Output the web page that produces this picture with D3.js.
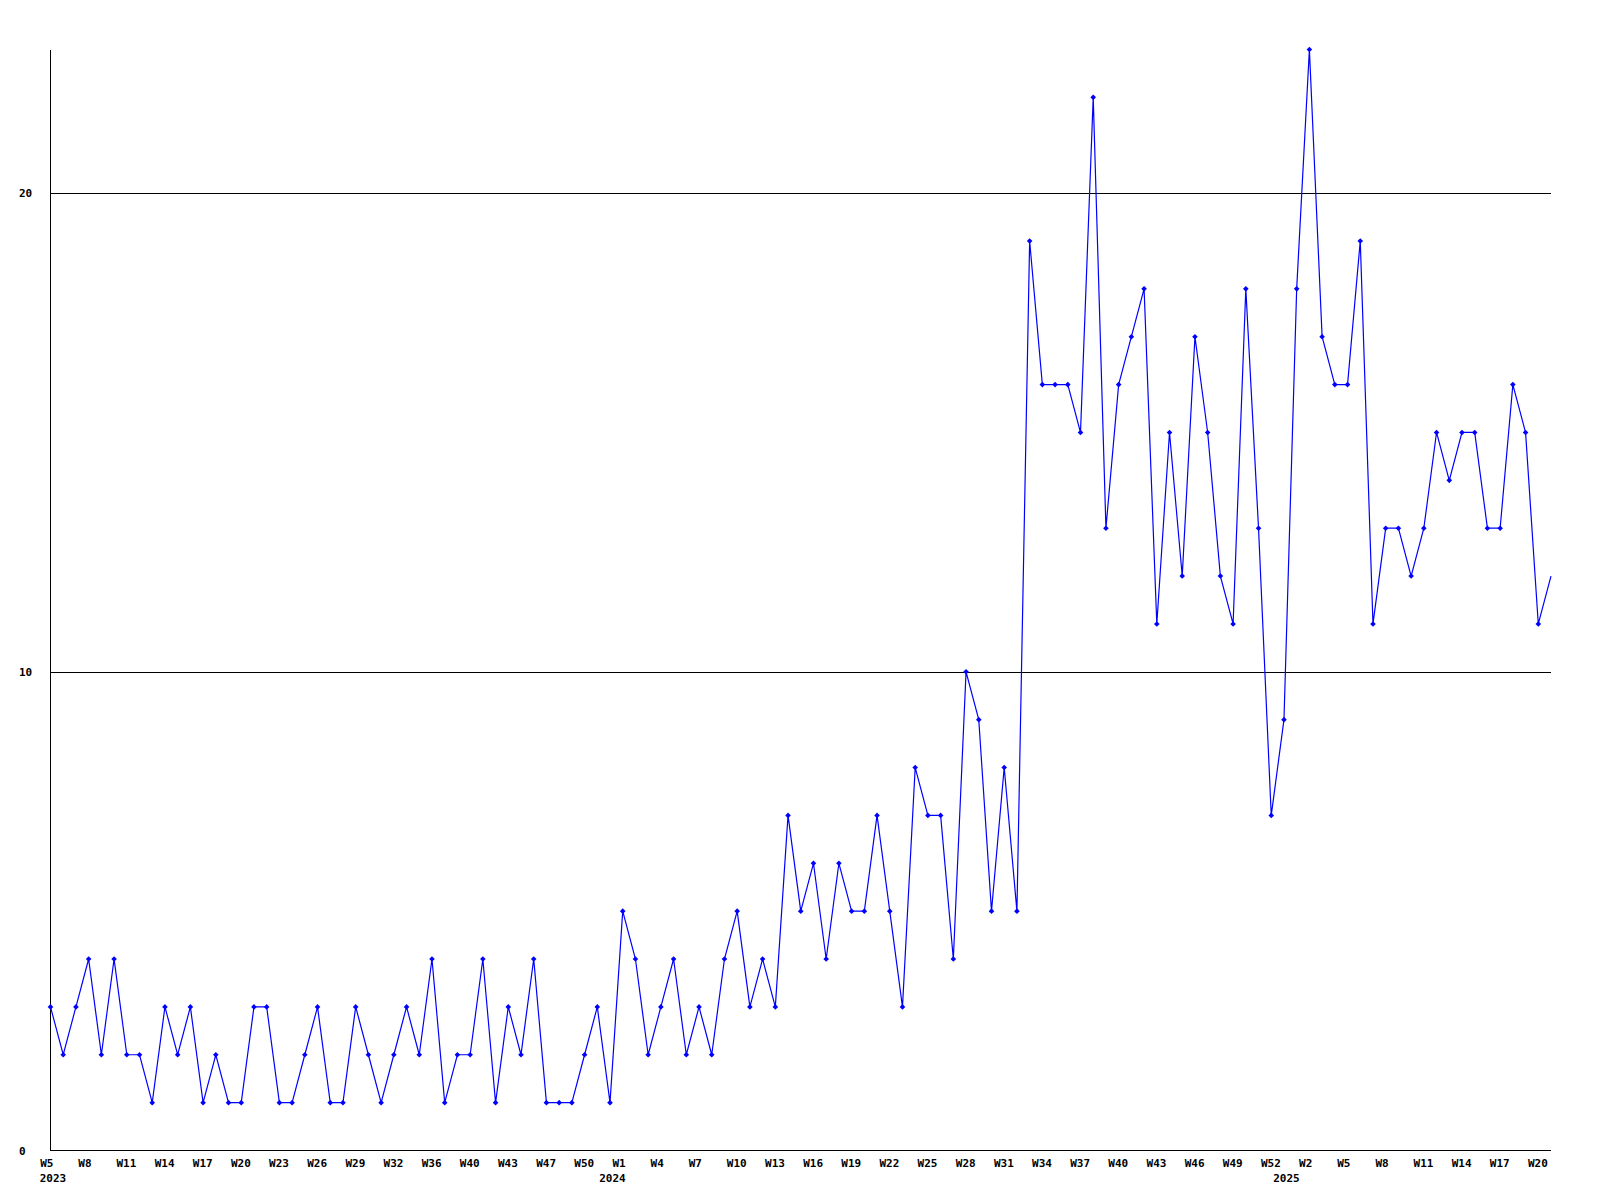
<!DOCTYPE html>
<html>
<head>
<meta charset="utf-8">
<script src="https://cdn.jsdelivr.net/npm/d3@7"></script>
<style>
  html, body { margin: 0; padding: 0; background: #ffffff; }
  svg { display: block; }
  text { font-family: "DejaVu Sans Mono", "Liberation Mono", monospace; font-weight: bold; font-size: 11px; fill: #000; }
</style>
</head>
<body>
<svg id="chart" width="1600" height="1200"></svg>
<script>
// ---- data ----
const values = [
  3,2,3,4,2,4,2,2,1,3, 2,3,1,2,1,1,3,3,1,1,
  2,3,1,1,3,2,1,2,3,2, 4,1,2,2,4,1,3,2,4,1,
  1,1,2,3,1,5,4,2,3,4, 2,3,2,4,5,3,4,3,7,5,
  6,4,6,5,5,7,5,3,8,7, 7,4,10,9,5,8,5,19,16,16,
  16,15,22,13,16,17,18,11,15,12, 17,15,12,11,18,13,7,9,18,23,
  17,16,16,19,11,13,13,12,13,15, 14,15,15,13,13,16,15,11,12
];
const tickLabels = [
  "W5","W8","W11","W14","W17","W20","W23","W26","W29","W32",
  "W36","W40","W43","W47","W50","W1","W4","W7","W10","W13",
  "W16","W19","W22","W25","W28","W31","W34","W37","W40","W43",
  "W46","W49","W52","W2","W5","W8","W11","W14","W17","W20"
];
const tickIndex = tickLabels.map((d, i) => i * 3);
const yearLabels = ["2023", "2024", "2025"];
const yearIndex = [0, 44, 97];
const yTicks = [0, 10, 20];

(function () {
  const svg = d3.select("#chart");
  const plotL = 50.5, plotR = 1551, plotT = 49.5, plotB = 1150.5;

  const x = d3.scaleLinear().domain([0, values.length - 1]).range([plotL, plotR]);
  const y = d3.scaleLinear().domain([0, 23]).range([plotB, plotT]);

  // gridlines
  svg.append("g")
    .selectAll("line")
    .data(yTicks.filter(d => d > 0))
    .join("line")
    .attr("x1", plotL).attr("x2", plotR)
    .attr("y1", d => Math.round(y(d)) + 0.5).attr("y2", d => Math.round(y(d)) + 0.5)
    .attr("stroke", "#000").attr("stroke-width", 1)
    .attr("shape-rendering", "crispEdges");

  // y axis
  const yAxis = svg.append("g")
    .attr("transform", `translate(${plotL},0)`)
    .call(d3.axisLeft(y).tickValues(yTicks).tickSize(0).tickPadding(0).tickFormat(d3.format("d")));
  yAxis.select(".domain").remove();
  yAxis.selectAll("text")
    .attr("x", 19 - plotL).attr("dy", "0.33em")
    .attr("text-anchor", "start");
  svg.append("line")
    .attr("x1", plotL).attr("x2", plotL).attr("y1", plotT).attr("y2", plotB)
    .attr("stroke", "#000").attr("shape-rendering", "crispEdges");

  // x axis
  const xAxis = svg.append("g")
    .attr("transform", `translate(0,${plotB})`)
    .call(d3.axisBottom(x).tickValues(tickIndex).tickSize(0).tickPadding(0)
      .tickFormat((d, i) => tickLabels[i]));
  xAxis.select(".domain").remove();
  xAxis.selectAll("text")
    .attr("y", 16.5).attr("dy", 0).attr("dx", -10.8)
    .attr("text-anchor", "start");
  svg.append("line")
    .attr("x1", plotL).attr("x2", plotR).attr("y1", plotB).attr("y2", plotB)
    .attr("stroke", "#000").attr("shape-rendering", "crispEdges");

  // year labels
  svg.append("g")
    .selectAll("text")
    .data(yearLabels)
    .join("text")
    .attr("x", (d, i) => x(yearIndex[i]) - 10.8)
    .attr("y", plotB + 31)
    .attr("text-anchor", "start")
    .text(d => d);

  // data line
  const line = d3.line().x((d, i) => x(i)).y(d => y(d));
  svg.append("path")
    .datum(values)
    .attr("d", line)
    .attr("fill", "none")
    .attr("stroke", "#0000ff")
    .attr("stroke-width", 1.2);

  // markers
  svg.append("g")
    .selectAll("path")
    .data(values.slice(0, values.length - 1))
    .join("path")
    .attr("transform", (d, i) => `translate(${x(i)},${y(d)})`)
    .attr("d", "M0,-2.8L2.8,0L0,2.8L-2.8,0Z")
    .attr("fill", "#0000ff");
})();
</script>
</body>
</html>
